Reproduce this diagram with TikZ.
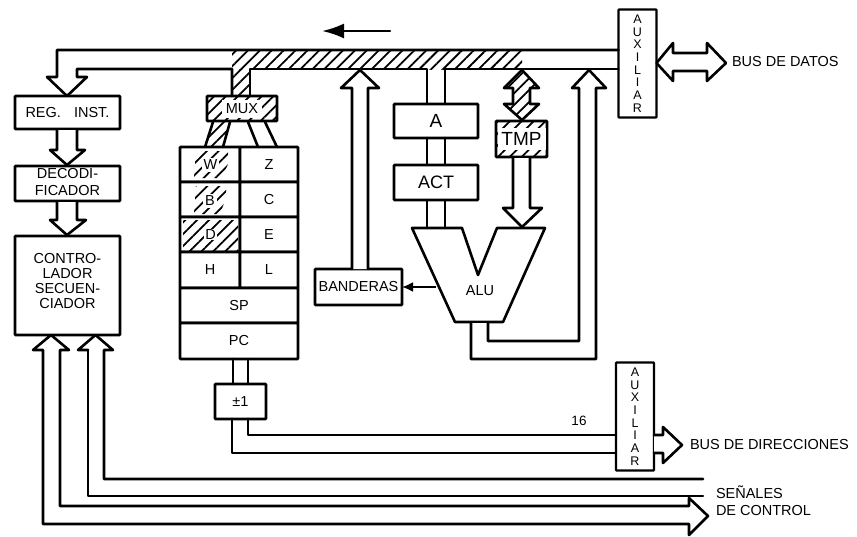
\documentclass[tikz,border=0pt]{standalone}
\usepackage{fontspec}
\setmainfont{Liberation Sans}
\usetikzlibrary{patterns.meta,arrows.meta,calc}
\tikzset{
  x=1pt,y=-1pt,
  wire/.style={line width=2.6pt,line join=round,line cap=round},
  hatch/.style={pattern={Lines[angle=45,distance=8.4pt,line width=1.8pt]},pattern color=black},
  boxn/.style={draw,line width=2.6pt,rectangle,rounded corners=0.6pt,inner sep=0pt,outer sep=0pt,fill=white,align=center,font=\fontsize{14.5}{15}\selectfont},
  labeln/.style={inner sep=0pt,outer sep=0pt,align=left,font=\fontsize{14.5}{17}\selectfont},
  auxn/.style={boxn,line width=2.2pt,minimum width=38pt,minimum height=108pt,font=\fontsize{12.5}{12.7}\selectfont},
}
\newcommand{\boxat}[6][]{\node[boxn,minimum width=#5pt,minimum height=#6pt,#1] (#2) at (#3,#4)}
\begin{document}
\begin{tikzpicture}
\useasboundingbox (0,0) rectangle (857,536);
\fill[white] (0,0) rectangle (857,536);

% hatched bus segments
\fill[hatch] (232,50) rectangle (522,69);
\fill[hatch] (232,69) rectangle (250,96);
\fill[hatch] (213,122) -- (230,122) -- (223,147) -- (205,147) -- cycle;

% boxes
\boxat{reg}{67.5}{112.5}{105}{33} {REG.\hspace{0.9em}INST.};
\boxat{deco}{67.5}{183.5}{105}{35} {};
\node[inner sep=0pt,align=center,font=\fontsize{14.5}{17}\selectfont] (decotxt) at (67.5,182.5) {DECODI-\\FICADOR};
\boxat{ctrl}{67.5}{285.5}{105}{99} {};
\node[inner sep=0pt,align=center,font=\fontsize{14.5}{15}\selectfont] (ctrltxt) at (67.5,281) {CONTRO-\\LADOR\\SECUEN-\\CIADOR};

\boxat[pattern={Lines[angle=45,distance=8.4pt,line width=1.8pt]}]{mux}{242}{108.5}{70}{25} {};
\node[fill=white,inner sep=1pt,minimum width=40pt,minimum height=18pt,font=\fontsize{14.5}{15}\selectfont] (muxtxt) at (242,108.5) {MUX};

% registers
\boxat{w}{210}{164.5}{60}{35} {};
\boxat{z}{269}{164.5}{58}{35} {Z};
\boxat{b}{210}{199.5}{60}{35} {};
\boxat{c}{269}{199.5}{58}{35} {C};
\boxat{d}{210}{234.5}{60}{35} {};
\boxat{e}{269}{234.5}{58}{35} {E};
\boxat{h}{210}{270}{60}{36} {H};
\boxat{l}{269}{270}{58}{36} {L};
\boxat{sp}{239}{305.5}{118}{35} {SP};
\boxat{pc}{239}{341}{118}{36} {PC};
\fill[hatch] (196,151) -- (228,151) -- (228,164) -- (222,178) -- (194,178) -- cycle;
\node[fill=white,inner sep=2pt,font=\fontsize{14.5}{15}\selectfont] (wt) at (210.5,165) {W};
\fill[hatch] (196,186) -- (226,186) -- (226,198) -- (220,214) -- (194,214) -- cycle;
\node[fill=white,inner sep=2pt,font=\fontsize{14.5}{15}\selectfont] (bt) at (210,201) {B};
\fill[hatch] (183,220) rectangle (238,250);
\node[fill=white,inner sep=1pt,font=\fontsize{14.5}{15}\selectfont] (dt) at (210.5,234.5) {D};

\boxat{pm}{240.5}{401.5}{51}{35} {±1};

% accumulators, TMP, flags
\boxat{a}{436}{121}{84}{34} {\fontsize{19}{20}\selectfont A};
\boxat{act}{436}{182.5}{84}{35} {\fontsize{18}{20}\selectfont ACT};
\boxat[pattern={Lines[angle=45,distance=8.4pt,line width=1.8pt]}]{tmp}{521.5}{139}{51}{36} {};
\fill[white] (497.5,128) rectangle (545.5,150);
\node[inner sep=0pt,font=\fontsize{19}{20}\selectfont] (tmptxt) at (521.5,139) {TMP};
\boxat{band}{358.5}{287}{87}{36} {BANDERAS};
\draw[wire,fill=white] (412,228) -- (462,228) -- (478,275) -- (497,228) -- (545,228) -- (503,322) -- (455,322) -- cycle;
\node[inner sep=0pt,font=\fontsize{14.5}{15}\selectfont] (alu) at (480,291) {ALU};

% auxiliary registers
\node[auxn] (aux1) at (637.5,63.5) {A\\U\\X\\I\\L\\I\\A\\R};
\node[auxn] (aux2) at (635,416.5) {A\\U\\X\\I\\L\\I\\A\\R};

% labels
\node[labeln,anchor=west] (ld) at (732,62) {BUS DE DATOS};
\node[labeln,anchor=west] (ldir) at (690,445) {BUS DE DIRECCIONES};
\node[labeln,anchor=west] (lc) at (716,501) {SEÑALES\\DE CONTROL};
\node[inner sep=0pt,font=\fontsize{13.5}{14}\selectfont] (n16) at (579,421) {16};

% direction arrow
\coordinate (dirs) at (390,31);
\coordinate (dire) at (322,31);
\draw[line width=2.4pt,line cap=round,-{Latex[length=22pt,width=15pt]}] (dirs) -- (dire);

% data bus outline with left arrow to REG. INST.
\draw[wire] (aux1.west |- 0,50) -- (57,50) -- (57,77) -- (47,77) -- (67,0 |- reg.north) -- (87,77) -- (77,77) -- (77,69) -- (232,69) -- (232,96);
\draw[wire] (250,96) -- (250,69) -- (427,69) -- (427,104);
\draw[wire] (445,104) -- (445,69) -- (aux1.west |- 0,69);

% REG -> DECO -> CTRL
\draw[wire,fill=white] (57,130) -- (57,150) -- (50,150) -- (67,165) -- (85,150) -- (77,150) -- (77,130);
\draw[wire,fill=white] (57,202) -- (57,220) -- (50,220) -- (67,235) -- (86,220) -- (77,220) -- (77,202);

% MUX legs
\draw[wire] (213,122) -- (205,147);
\draw[wire] (230,122) -- (223,147);
\draw[wire] (248,122) -- (258,147);
\draw[wire] (265,122) -- (277,147);

% flags to bus
\draw[wire,fill=white] (352,0 |- band.north) -- (352,88) -- (341,88) -- (360,70) -- (379,88) -- (368,88) -- (368,0 |- band.north);

% A, ACT to ALU
\draw[wire] (427,0 |- a.south) -- (427,0 |- act.north);
\draw[wire] (445,0 |- a.south) -- (445,0 |- act.north);
\draw[wire] (427,0 |- act.south) -- (427,228);
\draw[wire] (445,0 |- act.south) -- (445,228);

% TMP double arrow
\draw[wire,hatch] (522,70) -- (539,88) -- (530,88) -- (530,104) -- (539,104) -- (522,120) -- (504,104) -- (513,104) -- (513,88) -- (504,88) -- cycle;

% TMP to ALU
\draw[wire,fill=white] (513,158) -- (513,208) -- (503,208) -- (522,227) -- (542,208) -- (530,208) -- (530,158);

% ALU to flags
\coordinate (alul) at (436,287);
\draw[line width=1.9pt,-{Latex[length=11pt,width=10pt]}] (alul) -- (band.east);

% ALU results to bus
\draw[wire,fill=white] (471,323) -- (471,359) -- (596,359) -- (596,88) -- (606,88) -- (589,70) -- (572,88) -- (579,88) -- (579,341) -- (488,341) -- (488,323);

% PC to +-1
\draw[wire] (233,0 |- pc.south) -- (233,0 |- pm.north);
\draw[wire] (248,0 |- pc.south) -- (248,0 |- pm.north);

% +-1 to AUX
\draw[wire] (232,0 |- pm.south) -- (232,453) -- (aux2.west |- 0,453);
\draw[wire] (248,0 |- pm.south) -- (248,435) -- (aux2.west |- 0,435);

% bus arrows on the right
\draw[wire,fill=white] (aux1.east |- 0,63) -- (673,43) -- (673,53) -- (707,53) -- (707,43) -- (726,63) -- (707,81) -- (707,71) -- (673,71) -- (673,81) -- cycle;
\draw[wire,fill=white] (aux2.east |- 0,435) -- (663,435) -- (663,427) -- (682,445) -- (663,463) -- (663,453) -- (aux2.east |- 0,453);

% control lines
\draw[wire] (43,350) -- (33,350) -- (51,0 |- ctrl.south) -- (69,350) -- (60,350) -- (60,506) -- (689,506) -- (689,498) -- (708,516) -- (689,535) -- (689,524) -- (43,524) -- cycle;
\draw[wire] (88,350) -- (78,350) -- (95.5,0 |- ctrl.south) -- (113,350) -- (104,350) -- (104,479) -- (703,479);
\draw[wire] (88,350) -- (88,496) -- (703,496);
\end{tikzpicture}
\end{document}
